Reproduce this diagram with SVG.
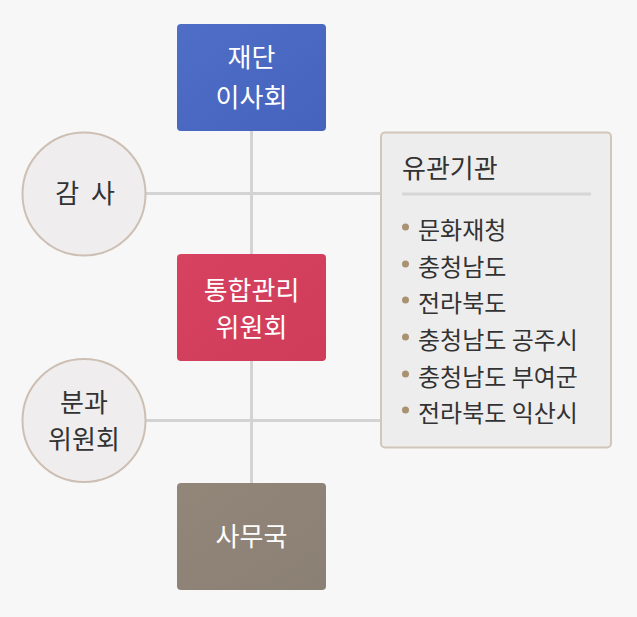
<svg xmlns="http://www.w3.org/2000/svg" width="637" height="617" viewBox="0 0 637 617">
<defs>
<style>
.t{font-family:"Noto Sans CJK KR","Noto Sans",sans-serif;font-size:26px;text-anchor:middle}
.w{fill:#ffffff}
.d{fill:#333333}
.li{font-family:"Noto Sans CJK KR","Noto Sans",sans-serif;font-size:24px;fill:#333333}
.ln{stroke:#d3d3d3;stroke-width:3;fill:none}
.circ{fill:#efedee;stroke:#cdbfb3;stroke-width:2}
.bul{fill:#a99272}
</style>
<linearGradient id="gb" x1="0" y1="0" x2="1" y2="1"><stop offset="0" stop-color="#4f6ec6"/><stop offset="1" stop-color="#4563bd"/></linearGradient>
<linearGradient id="gr" x1="0" y1="0" x2="1" y2="1"><stop offset="0" stop-color="#d6425f"/><stop offset="1" stop-color="#cf3c5a"/></linearGradient>
<linearGradient id="gg" x1="0" y1="0" x2="1" y2="1"><stop offset="0" stop-color="#928679"/><stop offset="1" stop-color="#8b8074"/></linearGradient>
</defs>
<rect width="637" height="617" fill="#f7f7f7"/>
<g id="connectors">
<line class="ln" x1="251.5" y1="131" x2="251.5" y2="483"/>
<line class="ln" x1="146" y1="193.5" x2="381" y2="193.5"/>
<line class="ln" x1="146" y1="420.5" x2="381" y2="420.5"/>
</g>
<g id="board">
<rect x="177" y="24" width="149" height="107" rx="4" fill="url(#gb)"/>
<text class="t w" x="251.5" y="67">재단</text>
<text class="t w" x="251.5" y="107">이사회</text>
</g>
<g id="committee">
<rect x="177" y="254" width="149" height="107" rx="4" fill="url(#gr)"/>
<text class="t w" x="251.5" y="300">통합관리</text>
<text class="t w" x="251.5" y="337">위원회</text>
</g>
<g id="secretariat">
<rect x="177" y="483" width="149" height="107" rx="4" fill="url(#gg)"/>
<text class="t w" x="251.5" y="546">사무국</text>
</g>
<g id="audit">
<circle class="circ" cx="84" cy="194" r="61.5"/>
<text class="t d" x="85" y="203" word-spacing="6">감 사</text>
</g>
<g id="subcommittee">
<circle class="circ" cx="84" cy="420.5" r="61.5"/>
<text class="t d" x="84" y="412">분과</text>
<text class="t d" x="84" y="449">위원회</text>
</g>
<g id="related">
<rect x="381" y="132.5" width="230" height="315" rx="4" fill="#eeeded" stroke="#d2c5b9" stroke-width="2"/>
<text class="li" x="402" y="178" style="font-size:26px">유관기관</text>
<line x1="402" y1="194" x2="591" y2="194" stroke="#d6d6d6" stroke-width="3"/>
<circle class="bul" cx="405.5" cy="227" r="3.5"/>
<text class="li" x="418" y="239">문화재청</text>
<circle class="bul" cx="405.5" cy="264" r="3.5"/>
<text class="li" x="418" y="276">충청남도</text>
<circle class="bul" cx="405.5" cy="300" r="3.5"/>
<text class="li" x="418" y="312">전라북도</text>
<circle class="bul" cx="405.5" cy="337" r="3.5"/>
<text class="li" x="418" y="349">충청남도 공주시</text>
<circle class="bul" cx="405.5" cy="374" r="3.5"/>
<text class="li" x="418" y="386">충청남도 부여군</text>
<circle class="bul" cx="405.5" cy="410" r="3.5"/>
<text class="li" x="418" y="422">전라북도 익산시</text>
</g>
</svg>
